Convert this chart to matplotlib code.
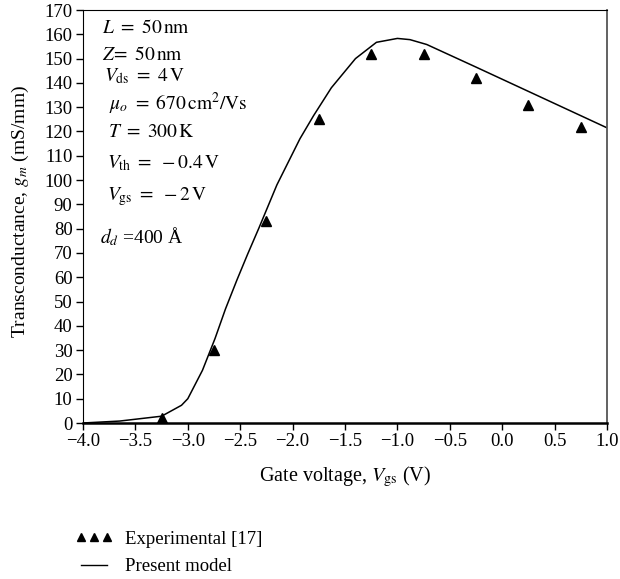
import numpy as np
import matplotlib
matplotlib.use("Agg")
import matplotlib.pyplot as plt
from matplotlib.lines import Line2D

plt.rcParams['font.family'] = ['Liberation Serif', 'DejaVu Serif']
plt.rcParams['mathtext.fontset'] = 'stix'
plt.rcParams['font.size'] = 12

# present model curve
vgs_model = [-4.0, -3.65, -3.25, -3.06, -3.0, -2.86, -2.74, -2.64, -2.53, -2.43,
             -2.32, -2.15, -1.93, -1.80, -1.63, -1.40, -1.20, -1.0, -0.88, -0.72,
             -0.25, 0.25, 1.0]
gm_model = [0.0, 0.8, 2.8, 7.3, 10.0, 21.7, 34.8, 47.0, 59.0, 69.4,
            80.4, 98.0, 117.0, 126.5, 138.0, 150.0, 156.7, 158.3, 157.8, 155.8,
            146.5, 136.5, 121.5]

# experimental [17]
vgs_exp = [-3.25, -2.75, -2.25, -1.75, -1.25, -0.75, -0.25, 0.25, 0.75]
gm_exp = [2, 30, 83, 125, 152, 152, 142, 131, 122]

xticks = np.arange(-4.0, 1.01, 0.5)
yticks = np.arange(0, 171, 10)

fig = plt.figure(figsize=(6.2, 5.79), dpi=100)
ax = fig.add_axes([83/620, 1-423/579, (607-83)/620, (423-10)/579])

ax.plot(vgs_model, gm_model, color='black', lw=1.1)
ax.plot(vgs_exp, gm_exp, ls='none', marker='^', color='black', ms=7.5)

ax.set_xlim(-4.0, 1.0)
ax.set_ylim(0, 170)
ax.set_xticks(xticks)
ax.set_xticklabels([f"{v:.1f}".replace('-', '\u2212') for v in xticks])
ax.set_yticks(yticks)
ax.tick_params(direction='out', length=5, width=1, labelsize=13.5, pad=2.5)
ax.spines['bottom'].set_linewidth(1.8)
ax.spines['right'].set_color('#555555')
ax.spines['right'].set_linewidth(1.3)

ax.set_xlabel(r"Gate voltage, $V_{\mathrm{gs}}$ (V)", fontsize=14.5)
ax.set_ylabel(r"Transconductance, $g_m$ (mS/mm)", fontsize=14)
ax.xaxis.set_label_coords(0.5, -0.100)
ax.yaxis.set_label_coords(-0.099, 0.513)

notes = [
    (0.036, 0.944, r"$L\ =\ 50\,\mathrm{nm}$"),
    (0.036, 0.878, r"$Z\!=\ 50\,\mathrm{nm}$"),
    (0.041, 0.828, r"$V_{\mathrm{ds}}\ =\ 4\,\mathrm{V}$"),
    (0.050, 0.758, r"$\mu_o\ =\ 670\,\mathrm{cm}^2\mathrm{/Vs}$"),
    (0.047, 0.693, r"$T\ =\ 300\,\mathrm{K}$"),
    (0.045, 0.617, r"$V_{\mathrm{th}}\ =\ -0.4\,\mathrm{V}$"),
    (0.045, 0.540, r"$V_{\mathrm{gs}}\ =\ -2\,\mathrm{V}$"),
    (0.032, 0.436, r"$d_d$ =400 Å"),
]
for x, y, s in notes:
    ax.text(x, y, s, transform=ax.transAxes, fontsize=14, va='baseline', ha='left')

handles = [Line2D([], [], ls='none', marker='^', color='black', ms=5.5),
           Line2D([], [], color='black', lw=1.0)]
fig.legend(handles, ["Experimental [17]", "Present model"], loc='upper left',
           bbox_to_anchor=(68/620, 1-523/579), frameon=False, numpoints=3,
           handlelength=2.0, handletextpad=0.65, labelspacing=0.55, fontsize=13.5,
           borderaxespad=0)

fig.savefig("out.png", dpi=100)
